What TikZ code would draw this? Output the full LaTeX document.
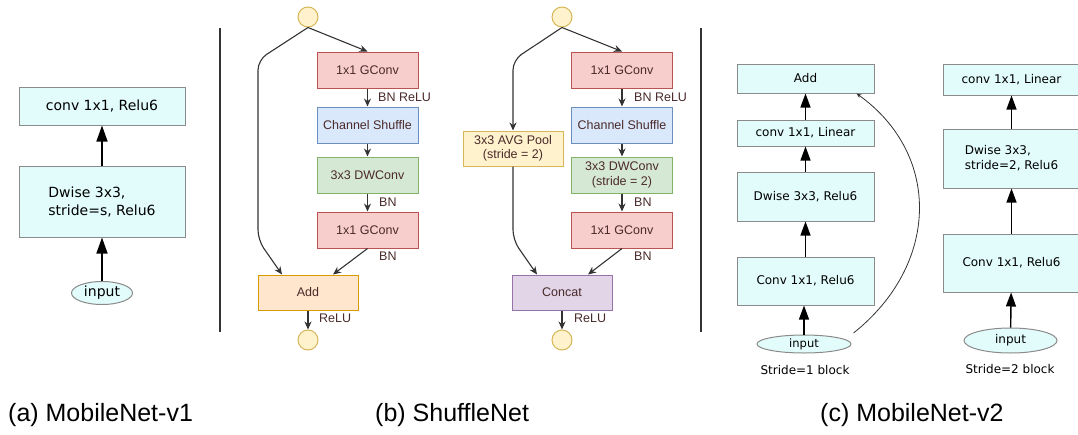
\documentclass[tikz,border=0pt]{standalone}
\usepackage{fontspec}
\setmainfont{Liberation Sans}
\newfontfamily\dejavu{DejaVu Sans}
\usetikzlibrary{positioning,shapes.geometric,arrows.meta}

\definecolor{mcyan}{HTML}{E2FBFB}
\definecolor{mgray}{HTML}{8A8A8A}
\definecolor{sline}{HTML}{333333}
\definecolor{stext}{HTML}{4A2A2A}
\definecolor{redf}{HTML}{F8CECC}\definecolor{redd}{HTML}{B85450}
\definecolor{bluef}{HTML}{DAE8FC}\definecolor{blued}{HTML}{6C8EBF}
\definecolor{greenf}{HTML}{D5E8D4}\definecolor{greend}{HTML}{82B366}
\definecolor{orangef}{HTML}{FFE6CC}\definecolor{oranged}{HTML}{D79B00}
\definecolor{yellowf}{HTML}{FFF2CC}\definecolor{yellowd}{HTML}{D6B656}
\definecolor{purplef}{HTML}{E1D5E7}\definecolor{purpled}{HTML}{9673A6}

\tikzset{
  mbox/.style={draw=mgray, fill=mcyan, line width=1pt, inner sep=0pt,
    minimum width=137pt, font=\dejavu\fontsize{12}{15}\selectfont},
  mbig/.style={mbox, minimum width=166pt, font=\dejavu\fontsize{14}{18}\selectfont},
  mnode/.style={ellipse, draw=mgray, fill=mcyan, line width=1pt, inner sep=0pt},
  mlink/.style={-{Triangle[width=10pt,length=14pt]}, line width=1.4pt},
  mbiglink/.style={-{Triangle[width=11pt,length=16pt]}, line width=1.5pt},
  sbox/.style={draw=#1d, fill=#1f, line width=1pt, inner sep=0pt,
    minimum width=101pt, minimum height=36pt, text=stext, align=center,
    font=\fontsize{12.5}{14.5}\selectfont},
  sdot/.style={circle, draw=yellowd, fill=yellowf, line width=1pt,
    minimum size=20pt, inner sep=0pt},
  slink/.style={-{Stealth[length=8pt,width=7pt]}, draw=sline, line width=1.1pt},
  snote/.style={anchor=west, text=stext, inner sep=0pt, font=\fontsize{12.5}{14}\selectfont},
  caption/.style={anchor=west, inner sep=0pt, font=\fontsize{25}{28}\selectfont}
}

\begin{document}
\begin{tikzpicture}[x=1pt,y=-1pt]
  \useasboundingbox (0,0) rectangle (1078,434);

  % MobileNet-v1
  \node[mbig, minimum height=38pt] (a1) at (102,106) {conv 1x1, Relu6};
  \node[mbig, minimum height=71pt, align=left] (a2) at (102,201.5) {Dwise 3x3,\\stride=s, Relu6};
  \node[mnode, minimum width=61pt, minimum height=23pt, font=\dejavu\fontsize{14}{16}\selectfont] (a0) at (102,293) {input};
  \draw[mbiglink] (a0) -- (a2);
  \draw[mbiglink] (a2) -- (a1);

  \draw[line width=2pt, sline] (220,28) -- (220,332);

  % ShuffleNet, stride 1
  \node[sdot] (sin) at (308,17) {};
  \node[sbox=red] (s1) at (367.5,70) {1x1 GConv};
  \node[sbox=blue] (s2) at (367.5,125) {Channel Shuffle};
  \node[sbox=green] (s3) at (367.5,175) {3x3 DWConv};
  \node[sbox=red] (s4) at (367.5,230) {1x1 GConv};
  \node[sbox=orange, minimum width=100pt, minimum height=35pt] (sadd) at (308,292.5) {Add};
  \node[sdot] (sout) at (308,340) {};
  \draw[slink] (sin.south) -- (s1.north);
  \draw[slink] (s1) -- (s2);
  \draw[slink] (s2) -- (s3);
  \draw[slink] (s3) -- (s4);
  \draw[slink] (s4.south) -- ([xshift=25pt]sadd.north);
  \draw[slink, rounded corners=10pt] (sin.south) -- (258,60) -- (258,240) -- ([xshift=-26pt]sadd.north);
  \draw[slink] (sadd) -- (sout);
  \node[snote] at (378,97) {BN ReLU};
  \node[snote] at (379,202) {BN};
  \node[snote] at (379,256) {BN};
  \node[snote] at (319,318) {ReLU};

  % ShuffleNet, stride 2
  \node[sdot] (rin) at (562,17) {};
  \node[sbox=red] (r1) at (622,70) {1x1 GConv};
  \node[sbox=blue] (r2) at (622,125) {Channel Shuffle};
  \node[sbox=green] (r3) at (622,175) {3x3 DWConv\\(stride = 2)};
  \node[sbox=red] (r4) at (622,230) {1x1 GConv};
  \node[sbox=yellow, minimum width=100pt, minimum height=35pt] (pool) at (513,148.5) {3x3 AVG Pool\\(stride = 2)};
  \node[sbox=purple, minimum width=100pt, minimum height=35pt] (cat) at (562,292.5) {Concat};
  \node[sdot] (rout) at (562,340) {};
  \draw[slink] (rin.south) -- (r1.north);
  \draw[slink] (r1) -- (r2);
  \draw[slink] (r2) -- (r3);
  \draw[slink] (r3) -- (r4);
  \draw[slink] (r4.south) -- ([xshift=26pt]cat.north);
  \draw[slink, rounded corners=10pt] (rin.south) -- (513,60) -- (pool.north);
  \draw[slink, rounded corners=10pt] (pool.south) -- (513,240) -- ([xshift=-25pt]cat.north);
  \draw[slink] (cat) -- (rout);
  \node[snote] at (634,97) {BN ReLU};
  \node[snote] at (634,202) {BN};
  \node[snote] at (634,256) {BN};
  \node[snote] at (574,318) {ReLU};

  \draw[line width=2pt, sline] (701,28) -- (701,332);

  % MobileNet-v2, stride 1
  \node[mbox, minimum height=29pt] (c1) at (805.5,78.5) {Add};
  \node[mbox, minimum height=26pt] (c2) at (805.5,133) {conv 1x1, Linear};
  \node[mbox, minimum height=49pt] (c3) at (805.5,196.5) {Dwise 3x3, Relu6};
  \node[mbox, minimum height=48pt] (c4) at (805.5,281) {Conv 1x1, Relu6};
  \node[mnode, minimum width=94pt, minimum height=18pt, font=\dejavu\fontsize{11.5}{13}\selectfont] (c0) at (804,344) {input};
  \node[font=\dejavu\fontsize{12}{14}\selectfont, inner sep=0pt] (c0txt) at (805,370) {Stride=1 block};
  \draw[mlink] (c0.north) -- (c0.north |- c4.south);
  \draw[mlink] (c4) -- (c3);
  \draw[mlink] (c3) -- (c2);
  \draw[mlink] (c2) -- (c1);
  \draw[-{Stealth[length=5pt,width=4pt]}, line width=0.8pt, sline]
    ([xshift=2pt,yshift=11pt]c0.east) .. controls (939,265) and (942,155) .. ([xshift=-18pt]c1.south east);

  % MobileNet-v2, stride 2
  \node[mbox, minimum height=31pt] (d1) at (1011.5,79.5) {conv 1x1, Linear};
  \node[mbox, minimum height=59pt, align=left] (d2) at (1011.5,158.5) {Dwise 3x3,\\stride=2, Relu6};
  \node[mbox, minimum height=58pt] (d3) at (1011.5,263) {Conv 1x1, Relu6};
  \node[mnode, minimum width=93pt, minimum height=25pt, font=\dejavu\fontsize{12}{14}\selectfont] (d0) at (1010.5,340.5) {input};
  \node[font=\dejavu\fontsize{12}{14}\selectfont, inner sep=0pt] (d0txt) at (1010,369) {Stride=2 block};
  \draw[mlink] (d0) -- (d3);
  \draw[mlink] (d3) -- (d2);
  \draw[mlink] (d2) -- (d1);

  % captions
  \node[caption] (capa) at (8,415) {(a) MobileNet-v1};
  \node[caption] (capb) at (375,415) {(b) ShuffleNet};
  \node[caption] (capc) at (820,415) {(c) MobileNet-v2};
\end{tikzpicture}
\end{document}
